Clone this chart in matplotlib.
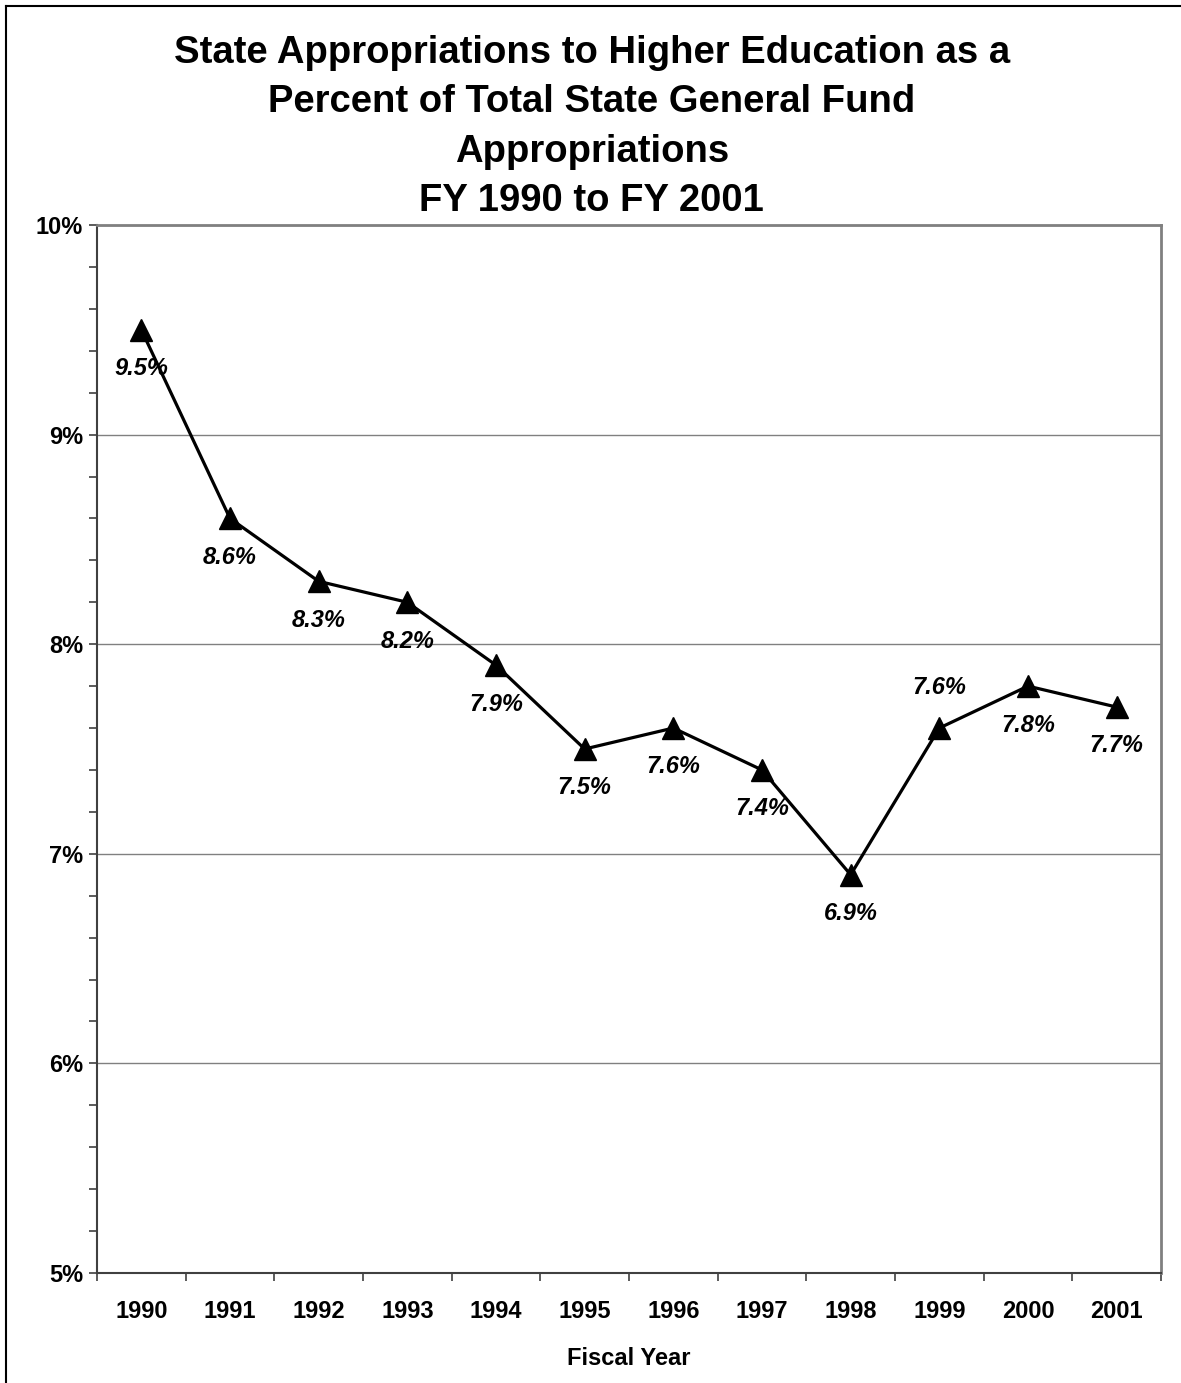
import matplotlib
matplotlib.use('Agg')
import matplotlib.pyplot as plt
from matplotlib.lines import Line2D
from matplotlib.ticker import MultipleLocator, FuncFormatter

plt.rcParams['font.family'] = ['Liberation Sans', 'DejaVu Sans']

# data
years = ['1990', '1991', '1992', '1993', '1994', '1995',
         '1996', '1997', '1998', '1999', '2000', '2001']
pct = [9.5, 8.6, 8.3, 8.2, 7.9, 7.5, 7.6, 7.4, 6.9, 7.6, 7.8, 7.7]
label_above = ['1999']

title_lines = ['State Appropriations to Higher Education as a',
               'Percent of Total State General Fund',
               'Appropriations',
               'FY 1990 to FY 2001']

fig = plt.figure(figsize=(11.81, 13.83), dpi=100)
ax = fig.add_axes([97 / 1181, 1 - 1273 / 1383, (1161 - 97) / 1181, (1273 - 225) / 1383])

x = list(range(len(years)))
ax.plot(x, pct, color='black', lw=2.3, marker='^', markersize=16,
        markerfacecolor='black', markeredgecolor='black', zorder=3)

for xi, yr, v in zip(x, years, pct):
    dy = 29 if yr in label_above else -28
    ax.annotate(f'{v:.1f}%', (xi, v), xytext=(0, dy), textcoords='offset points',
                ha='center', va='center', fontsize=17, fontweight='bold',
                fontstyle='italic', zorder=4)

ax.set_xlim(-0.5, len(years) - 0.5)
ax.set_ylim(5, 10)

# y axis
ax.yaxis.set_major_locator(MultipleLocator(1))
ax.yaxis.set_minor_locator(MultipleLocator(0.2))
ax.yaxis.set_major_formatter(FuncFormatter(lambda v, p: f'{v:.0f}%'))
ax.grid(axis='y', which='major', color='#808080', lw=1.0)
ax.set_axisbelow(True)

# x axis: tick marks between categories, labels at centers
ax.set_xticks([i - 0.5 for i in range(len(years) + 1)])
ax.set_xticklabels([])
ax.set_xticks(x, minor=True)
ax.set_xticklabels(years, minor=True)
ax.tick_params(axis='x', which='minor', length=0, pad=19.5)
ax.tick_params(axis='x', which='major', length=6, width=1.2, color='#404040', direction='out')
ax.tick_params(axis='y', which='both', length=6, width=1.2, color='#404040', direction='out', pad=4)

for lab in ax.get_xticklabels(minor=True) + ax.get_yticklabels():
    lab.set_fontsize(17)
    lab.set_fontweight('bold')

ax.set_xlabel('Fiscal Year', fontsize=17, fontweight='bold', labelpad=17)

for side in ['left', 'bottom']:
    ax.spines[side].set_color('#404040')
    ax.spines[side].set_linewidth(1.5)
for side in ['top', 'right']:
    ax.spines[side].set_color('#808080')
    ax.spines[side].set_linewidth(2)

fig.text(0.501, 1 - 127 / 1383, '\n'.join(title_lines), ha='center', va='center',
         fontsize=27.5, fontweight='bold', linespacing=1.48)

# outer chart border (only top and left edges are visible)
fig.add_artist(Line2D([6 / 1181, 6 / 1181], [0, 1 - 6 / 1383], color='black', lw=1.5))
fig.add_artist(Line2D([6 / 1181, 1], [1 - 6 / 1383, 1 - 6 / 1383], color='black', lw=1.5))

fig.savefig('out.png', dpi=100)
